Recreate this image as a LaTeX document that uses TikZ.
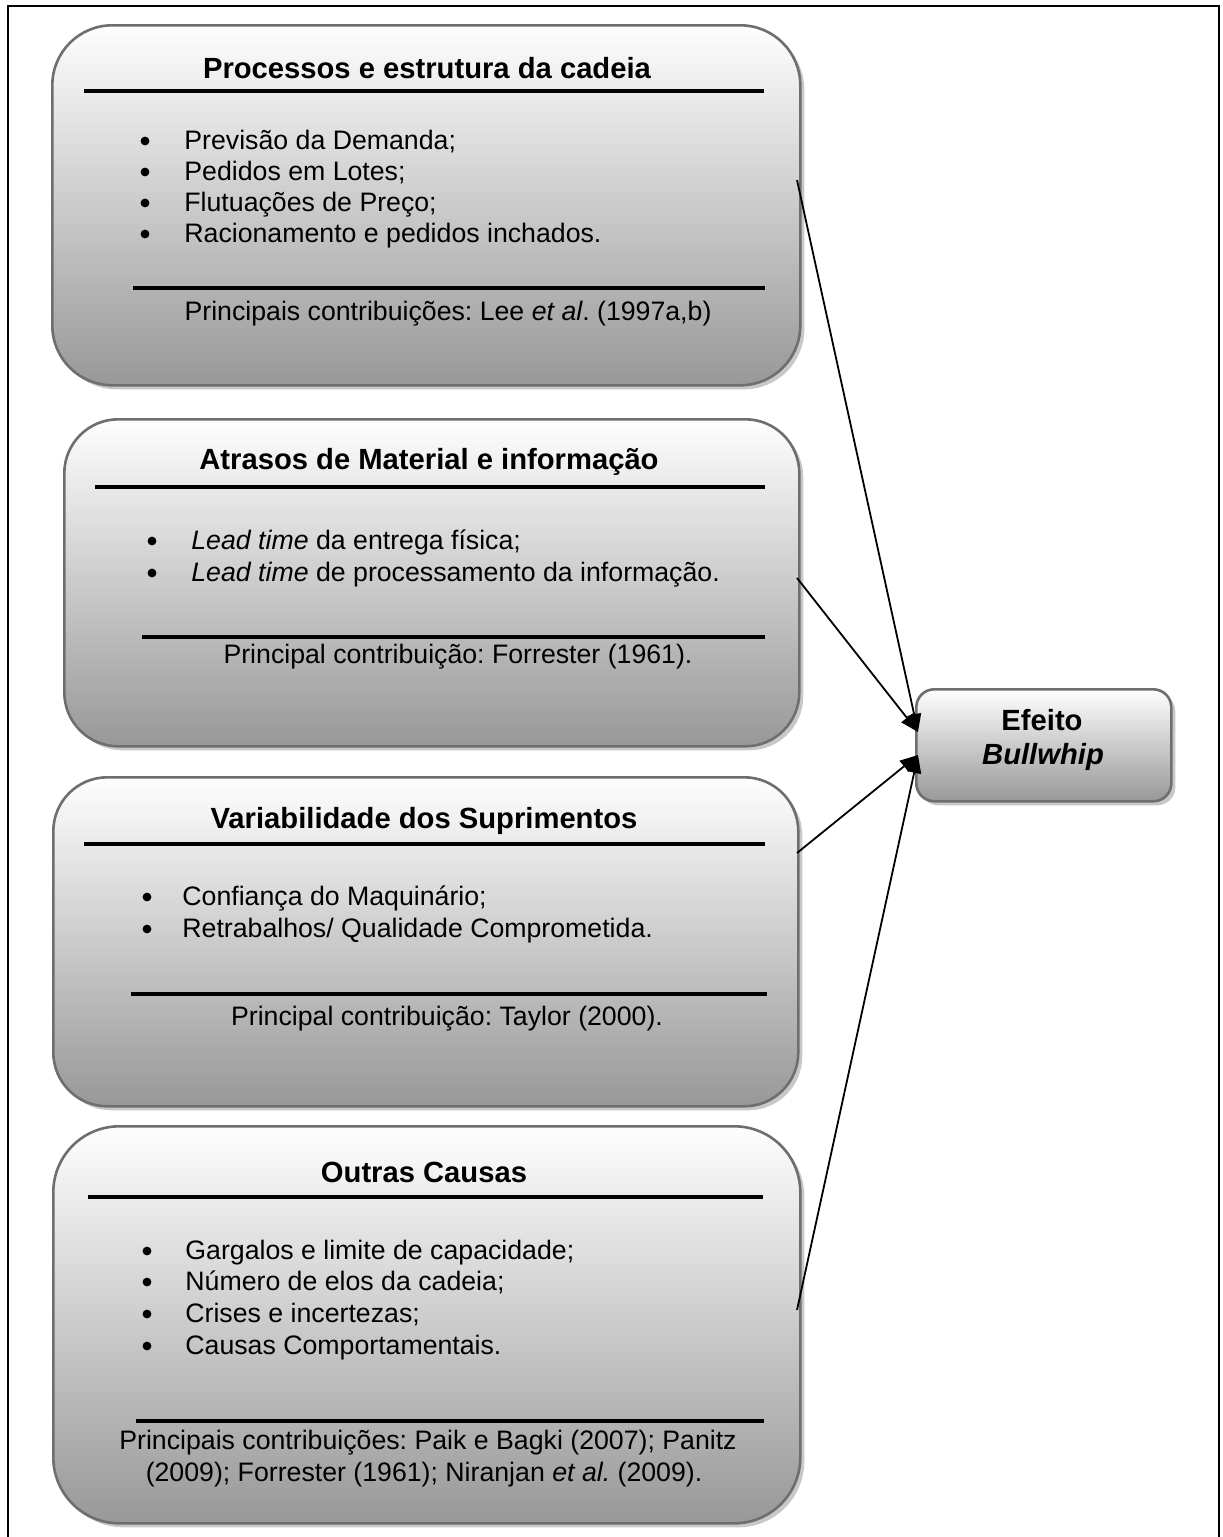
\documentclass[tikz,border=0pt]{standalone}
\usepackage{fontspec}
\setmainfont{Liberation Sans}
\usetikzlibrary{arrows.meta,shadows}
\frenchspacing

\definecolor{edgegray}{RGB}{110,110,110}
\definecolor{shadetop}{RGB}{254,254,254}
\definecolor{shadebot}{RGB}{152,152,152}
\definecolor{shadowgray}{RGB}{200,200,200}

\tikzset{
  panel/.style={draw=edgegray, line width=1.3pt, top color=shadetop, bottom color=shadebot,
    anchor=north west, inner sep=0pt,
    drop shadow={shadow xshift=2pt, shadow yshift=-2pt, fill=shadowgray, opacity=1}},
  heading/.style={anchor=base, inner sep=0pt, font=\fontsize{14.6}{17}\selectfont\bfseries},
  item/.style={anchor=base west, inner sep=0pt, font=\fontsize{13.35}{15}\selectfont},
  credit/.style={anchor=base, inner sep=0pt, font=\fontsize{13.35}{15}\selectfont},
  dot/.style={circle, fill=black, inner sep=0pt, minimum size=4.4pt},
  rule/.style={line width=1.6pt},
  link/.style={line width=0.9pt, -{Triangle[length=9pt,width=7pt]}},
}

\begin{document}
\begin{tikzpicture}[x=0.5pt,y=-0.5pt]
\useasboundingbox (0,0) rectangle (1222,1537);
\fill[white] (0,0) rectangle (1222,1537);

% page frame, open at the bottom
\draw[line width=1.1pt] (8,1545) -- (8,6) -- (1219,6) -- (1219,1545);

% ---- panel 1: processes and chain structure
\node[panel, minimum width=374pt, minimum height=180pt, rounded corners=30pt] (p1) at (51,24) {};
\node[heading] (h1) at (427,78) {Processos e estrutura da cadeia};
\draw[rule] (84,91) -- (764,91);
\node[dot] (d11) at (145,141) {};
\node[item] (i11) at (184,149) {Previsão da Demanda;};
\node[dot] (d12) at (145,172) {};
\node[item] (i12) at (184,180) {Pedidos em Lotes;};
\node[dot] (d13) at (145,203) {};
\node[item] (i13) at (184,211) {Flutuações de Preço;};
\node[dot] (d14) at (145,234) {};
\node[item] (i14) at (184,242) {Racionamento e pedidos inchados.};
\draw[rule] (133,288) -- (765,288);
\node[credit] (c1) at (448,320) {Principais contribuições: Lee \textit{et al}. (1997a,b)};

% ---- panel 2: material and information delays
\node[panel, minimum width=367.5pt, minimum height=163.5pt, rounded corners=27pt] (p2) at (63,418) {};
\node[heading] (h2) at (429,469) {Atrasos de Material e informação};
\draw[rule] (95,487) -- (765,487);
\node[dot] (d21) at (152,541) {};
\node[item] (i21) at (191,549) {\textit{Lead time} da entrega física;};
\node[dot] (d22) at (152,573) {};
\node[item] (i22) at (191,581) {\textit{Lead time} de processamento da informação.};
\draw[rule] (142,637) -- (765,637);
\node[credit] (c2) at (458,663) {Principal contribuição: Forrester (1961).};

% ---- panel 3: supply variability
\node[panel, minimum width=372.5pt, minimum height=164.5pt, rounded corners=27pt] (p3) at (52,776) {};
\node[heading] (h3) at (424,828) {Variabilidade dos Suprimentos};
\draw[rule] (84,844) -- (765,844);
\node[dot] (d31) at (147,897) {};
\node[item] (i31) at (182,905) {Confiança do Maquinário;};
\node[dot] (d32) at (147,929) {};
\node[item] (i32) at (182,937) {Retrabalhos/ Qualidade Comprometida.};
\draw[rule] (131,994) -- (767,994);
\node[credit] (c3) at (447,1025) {Principal contribuição: Taylor (2000).};

% ---- panel 4: other causes
\node[panel, minimum width=373.5pt, minimum height=198.5pt, rounded corners=33pt] (p4) at (52,1125) {};
\node[heading] (h4) at (424,1182) {Outras Causas};
\draw[rule] (88,1197) -- (763,1197);
\node[dot] (d41) at (147,1251) {};
\node[item] (i41) at (185,1259) {Gargalos e limite de capacidade;};
\node[dot] (d42) at (147,1282) {};
\node[item] (i42) at (185,1290) {Número de elos da cadeia;};
\node[dot] (d43) at (147,1314) {};
\node[item] (i43) at (185,1322) {Crises e incertezas;};
\node[dot] (d44) at (147,1346) {};
\node[item] (i44) at (185,1354) {Causas Comportamentais.};
\draw[rule] (136,1421) -- (764,1421);
\node[credit] (c41) at (428,1449) {Principais contribuições: Paik e Bagki (2007); Panitz};
\node[credit] (c42) at (424,1481) {(2009); Forrester (1961); Niranjan \textit{et al.} (2009).};

% ---- effect box
\node[panel, minimum width=127.5pt, minimum height=56pt, rounded corners=9pt] (eff) at (915,688) {};
\node[heading] (ef1) at (1042,730) {Efeito};
\node[heading] (ef2) at (1043,764) {\itshape Bullwhip};

% ---- connectors
\coordinate (s1) at (797,180);
\coordinate (s2) at (797,578);
\coordinate (s3) at (797,853);
\coordinate (s4) at (797,1310);
\coordinate (e1) at (918,732);
\coordinate (e2) at (918,755);
\draw[link] (s1) -- (e1);
\draw[link] (s2) -- (e1);
\draw[link] (s3) -- (e2);
\draw[link] (s4) -- (e2);
\end{tikzpicture}
\end{document}
